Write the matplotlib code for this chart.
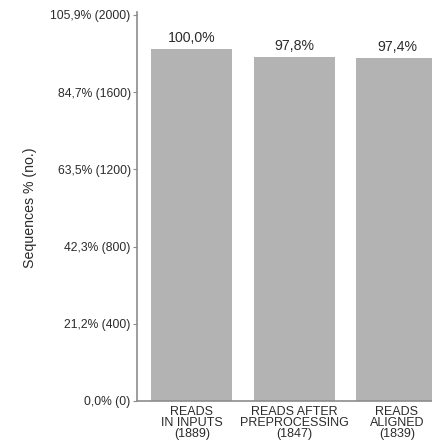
import matplotlib.pyplot as plt

# data
categories = ['READS\nIN INPUTS\n(1889)', 'READS AFTER\nPREPROCESSING\n(1847)', 'READS\nALIGNED\n(1839)']
bar_heights = [1824, 1782, 1777]
bar_labels = ['100,0%', '97,8%', '97,4%']
tick_values = [0, 400, 800, 1200, 1600, 2000]
tick_labels = ['0,0% (0)', '21,2% (400)', '42,3% (800)', '63,5% (1200)', '84,7% (1600)', '105,9% (2000)']

plt.rcParams['font.family'] = ['Liberation Sans', 'DejaVu Sans']
text_col = '#2b2b2b'
axis_col = '#8c8c8c'

fig = plt.figure(figsize=(4.32, 4.48), dpi=100)
ax = fig.add_axes([0.317, 0.105, 0.744, 0.868])

x = list(range(len(categories)))
ax.bar(x, bar_heights, width=0.79, color='#b3b3b3')
for xi, h, lab in zip(x, bar_heights, bar_labels):
    ax.text(xi, h + 20, lab, ha='center', va='bottom', fontsize=10.2, color=text_col)

ax.set_xlim(-0.537, 2.6)
ax.set_ylim(0, 2015)
ax.set_yticks(tick_values)
ax.set_yticklabels(tick_labels, fontsize=8.7, color=text_col)
ax.set_xticks(x)
ax.set_xticklabels(categories, fontsize=9, color=text_col, linespacing=0.88)
ax.tick_params(axis='x', length=0, pad=3.5)
ax.tick_params(axis='y', length=3, width=0.8, color=axis_col, pad=1.5)

for s in ['top', 'right']:
    ax.spines[s].set_visible(False)
for s in ['left', 'bottom']:
    ax.spines[s].set_color(axis_col)
    ax.spines[s].set_linewidth(1.2)

ax.set_ylabel('Sequences % (no.)', fontsize=10.2, color=text_col)
ax.yaxis.set_label_coords(-0.31, 0.496)

fig.savefig('out.png', dpi=100)
